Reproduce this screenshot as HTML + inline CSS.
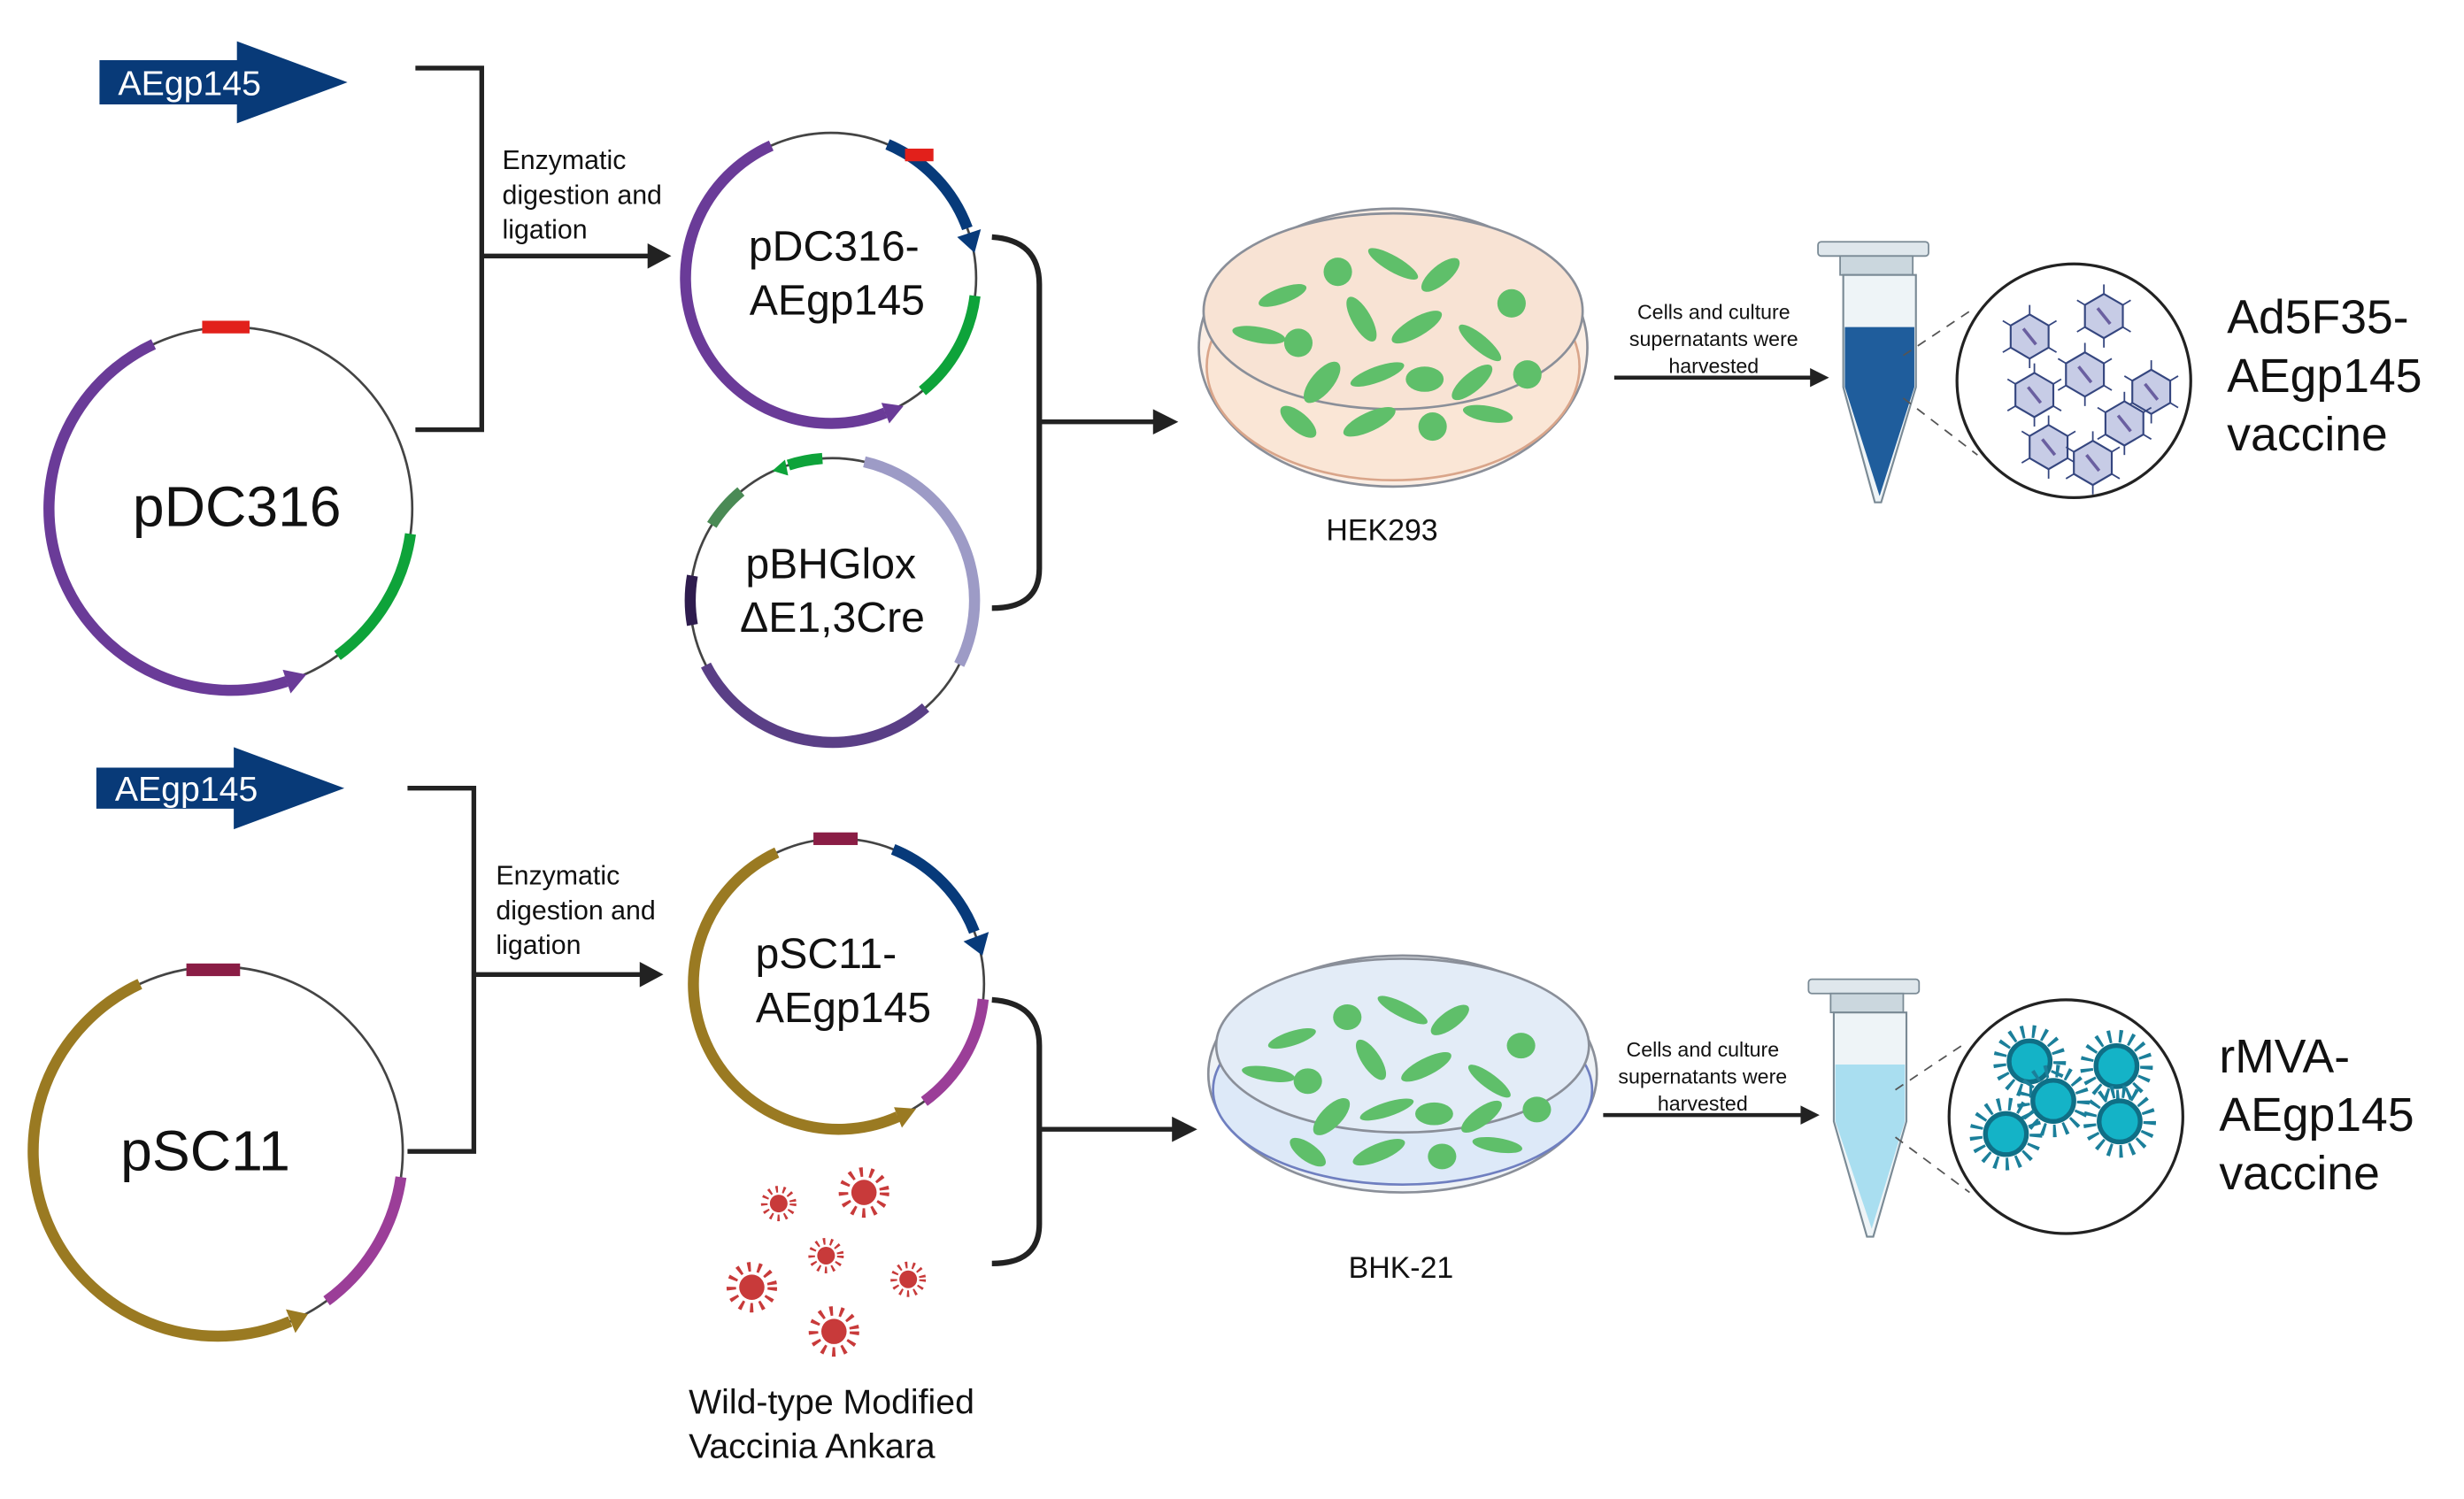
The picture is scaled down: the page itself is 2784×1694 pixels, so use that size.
<!DOCTYPE html>
<html><head><meta charset="utf-8"><style>
html,body{margin:0;padding:0;background:#fff}
svg{display:block}
text{font-family:"Liberation Sans",Arial,sans-serif;fill:#111}
</style></head><body>
<svg width="2784" height="1694" viewBox="0 0 1560 949" xmlns="http://www.w3.org/2000/svg">
<defs>
<g id="cells">
<ellipse cx="-70" cy="-25" rx="16" ry="5" transform="rotate(-20 -70 -25)"/>
<circle cx="-35" cy="-40" r="9"/>
<ellipse cx="0" cy="-45" rx="18" ry="5" transform="rotate(30 0 -45)"/>
<ellipse cx="30" cy="-38" rx="15" ry="6" transform="rotate(-40 30 -38)"/>
<circle cx="75" cy="-20" r="9"/>
<ellipse cx="-85" cy="0" rx="17" ry="5" transform="rotate(10 -85 0)"/>
<circle cx="-60" cy="5" r="9"/>
<ellipse cx="-20" cy="-10" rx="16" ry="6" transform="rotate(60 -20 -10)"/>
<ellipse cx="15" cy="-5" rx="18" ry="6" transform="rotate(-30 15 -5)"/>
<ellipse cx="55" cy="5" rx="17" ry="5" transform="rotate(40 55 5)"/>
<ellipse cx="-45" cy="30" rx="16" ry="7" transform="rotate(-50 -45 30)"/>
<ellipse cx="-10" cy="25" rx="18" ry="5" transform="rotate(-20 -10 25)"/>
<ellipse cx="20" cy="28" rx="12" ry="8"/>
<ellipse cx="50" cy="30" rx="16" ry="6" transform="rotate(-40 50 30)"/>
<circle cx="85" cy="25" r="9"/>
<ellipse cx="-60" cy="55" rx="14" ry="6" transform="rotate(40 -60 55)"/>
<ellipse cx="-15" cy="55" rx="18" ry="6" transform="rotate(-25 -15 55)"/>
<circle cx="25" cy="58" r="9"/>
<ellipse cx="60" cy="50" rx="16" ry="5" transform="rotate(10 60 50)"/>
</g>
<g id="hex"><polygon points="0,-14 12,-7 12,7 0,14 -12,7 -12,-7" fill="#c7cce6" stroke="#35467f" stroke-width="1.2"/><line x1="-4" y1="-5" x2="4" y2="5" stroke="#6a5fa0" stroke-width="2"/>
<g stroke="#35467f" stroke-width="1"><line x1="0" y1="-14" x2="0" y2="-20"/><line x1="12" y1="-7" x2="17" y2="-10"/><line x1="12" y1="7" x2="17" y2="10"/><line x1="0" y1="14" x2="0" y2="20"/><line x1="-12" y1="7" x2="-17" y2="10"/><line x1="-12" y1="-7" x2="-17" y2="-10"/></g></g>
<g id="mva"><circle r="19" fill="none" stroke="#1b7f9a" stroke-width="8" stroke-dasharray="2 5"/><circle r="13" fill="#14b3c7" stroke="#0f6f86" stroke-width="3"/></g>
<g id="redv"><circle r="13" fill="none" stroke="#c83a3a" stroke-width="6" stroke-dasharray="2 4.5"/><circle r="8" fill="#c83a3a"/></g>
</defs>

<polygon points="63,38 150,38 150,26 220,52 150,78 150,66 63,66" fill="#083a78"/>
<text x="120" y="60" font-size="22" text-anchor="middle" style="fill:#fff">AEgp145</text>
<path d="M263,43 H305 V272 H263" fill="none" stroke="#222" stroke-width="3"/>
<line x1="305" y1="162" x2="412" y2="162" stroke="#222" stroke-width="3"/>
<polygon points="410,154 425,162 410,170" fill="#222"/>
<text font-size="17"><tspan x="318" y="107">Enzymatic</tspan><tspan x="318" y="129">digestion and</tspan><tspan x="318" y="151">ligation</tspan></text>

<circle cx="146" cy="322" r="115" fill="none" stroke="#444" stroke-width="1.5"/>
<circle cx="146" cy="322" r="115" fill="none" stroke="#6a3b98" stroke-width="7" pathLength="360" stroke-dasharray="173 360" transform="rotate(72 146 322)"/>
<polygon points="184,439 179,424 194,427" fill="#6a3b98"/>
<circle cx="146" cy="322" r="115" fill="none" stroke="#0ea33a" stroke-width="7" pathLength="360" stroke-dasharray="46 360" transform="rotate(8 146 322)"/>
<rect x="128" y="203" width="30" height="8" fill="#e2201b"/>
<text x="150" y="333" font-size="36" text-anchor="middle">pDC316</text>

<circle cx="526" cy="176" r="92" fill="none" stroke="#444" stroke-width="1.5"/>
<circle cx="526" cy="176" r="92" fill="none" stroke="#6a3b98" stroke-width="7" pathLength="360" stroke-dasharray="178 360" transform="rotate(68 526 176)"/>
<polygon points="563,268 558,255 572,257" fill="#6a3b98"/>
<circle cx="526" cy="176" r="92" fill="none" stroke="#073a7a" stroke-width="7" pathLength="360" stroke-dasharray="47 360" transform="rotate(293 526 176)"/>
<polygon points="621,145 606,150 617,160" fill="#073a7a"/>
<rect x="573" y="94" width="18" height="8" fill="#e2201b"/>
<circle cx="526" cy="176" r="92" fill="none" stroke="#0ea33a" stroke-width="7" pathLength="360" stroke-dasharray="44 360" transform="rotate(7 526 176)"/>
<text font-size="27" text-anchor="middle"><tspan x="528" y="165">pDC316-</tspan><tspan x="530" y="199">AEgp145</tspan></text>

<circle cx="527" cy="380" r="90" fill="none" stroke="#444" stroke-width="1.5"/>
<circle cx="527" cy="380" r="90" fill="none" stroke="#9d9bc6" stroke-width="7" pathLength="360" stroke-dasharray="104 360" transform="rotate(283 527 380)"/>
<circle cx="527" cy="380" r="90" fill="none" stroke="#0ea33a" stroke-width="7" pathLength="360" stroke-dasharray="14 360" transform="rotate(252 527 380)"/>
<polygon points="489,298 497,291 499,301" fill="#0ea33a"/>
<circle cx="527" cy="380" r="90" fill="none" stroke="#4a8a55" stroke-width="7" pathLength="360" stroke-dasharray="18 360" transform="rotate(212 527 380)"/>
<circle cx="527" cy="380" r="90" fill="none" stroke="#2e1c4e" stroke-width="7" pathLength="360" stroke-dasharray="20 360" transform="rotate(170 527 380)"/>
<circle cx="527" cy="380" r="90" fill="none" stroke="#5a3f86" stroke-width="7" pathLength="360" stroke-dasharray="104 360" transform="rotate(49 527 380)"/>
<text font-size="27" text-anchor="middle"><tspan x="526" y="366">pBHGlox</tspan><tspan x="527" y="400">ΔE1,3Cre</tspan></text>

<path d="M628,150 Q658,152 658,180 V360 Q658,385 628,385" fill="none" stroke="#222" stroke-width="3.5"/>
<line x1="658" y1="267" x2="732" y2="267" stroke="#222" stroke-width="3"/>
<polygon points="730,259 746,267 730,275" fill="#222"/>

<ellipse cx="882" cy="220" rx="123" ry="88" fill="#fbeee4" stroke="#8a8f99" stroke-width="1.5"/>
<ellipse cx="882" cy="232" rx="118" ry="72" fill="#fae6d6" stroke="#d9a58a" stroke-width="1.5"/>
<ellipse cx="882" cy="197" rx="120" ry="62" fill="#f8e3d4" stroke="#8a8f99" stroke-width="1.5"/>
<g fill="#5fbf6a" transform="translate(882,212)"><use href="#cells"/></g>
<text x="875" y="342" font-size="19" text-anchor="middle">HEK293</text>

<text font-size="13" text-anchor="middle"><tspan x="1085" y="202">Cells and culture</tspan><tspan x="1085" y="219">supernatants were</tspan><tspan x="1085" y="236">harvested</tspan></text>
<line x1="1022" y1="239" x2="1148" y2="239" stroke="#222" stroke-width="2.5"/>
<polygon points="1146,233 1158,239 1146,245" fill="#222"/>

<rect x="1151" y="153" width="70" height="9" rx="2" fill="#dfe7ec" stroke="#7a8a95"/>
<rect x="1165" y="162" width="46" height="12" fill="#cbd7de" stroke="#7a8a95"/>
<path d="M1167,174 H1213 V245 L1191,318 L1187,318 L1167,245 Z" fill="#eef4f7" stroke="#7a8a95" stroke-width="1.2"/>
<path d="M1168,207 H1212 V245 L1190,314 L1168,245 Z" fill="#1f5d9c"/>
<g stroke="#555" stroke-width="1" stroke-dasharray="6 5"><line x1="1205" y1="225" x2="1250" y2="195"/><line x1="1205" y1="252" x2="1252" y2="288"/></g>
<circle cx="1313" cy="241" r="74" fill="#fff" stroke="#222" stroke-width="1.8"/>
<g><use href="#hex" x="1285" y="213"/><use href="#hex" x="1332" y="200"/><use href="#hex" x="1320" y="237"/><use href="#hex" x="1288" y="250"/><use href="#hex" x="1362" y="248"/><use href="#hex" x="1297" y="283"/><use href="#hex" x="1345" y="268"/><use href="#hex" x="1325" y="293"/></g>
<text font-size="30"><tspan x="1410" y="211">Ad5F35-</tspan><tspan x="1410" y="248">AEgp145</tspan><tspan x="1410" y="285">vaccine</tspan></text>

<polygon points="61,486 148,486 148,473 218,499 148,525 148,512 61,512" fill="#083a78"/>
<text x="118" y="507" font-size="22" text-anchor="middle" style="fill:#fff">AEgp145</text>
<path d="M258,499 H300 V729 H258" fill="none" stroke="#222" stroke-width="3"/>
<line x1="300" y1="617" x2="407" y2="617" stroke="#222" stroke-width="3"/>
<polygon points="405,609 420,617 405,625" fill="#222"/>
<text font-size="17"><tspan x="314" y="560">Enzymatic</tspan><tspan x="314" y="582">digestion and</tspan><tspan x="314" y="604">ligation</tspan></text>

<circle cx="138" cy="729" r="117" fill="none" stroke="#444" stroke-width="1.5"/>
<circle cx="138" cy="729" r="117" fill="none" stroke="#9a7a22" stroke-width="7" pathLength="360" stroke-dasharray="178 360" transform="rotate(67 138 729)"/>
<polygon points="187,844 181,829 195,832" fill="#9a7a22"/>
<circle cx="138" cy="729" r="117" fill="none" stroke="#9b3e98" stroke-width="7" pathLength="360" stroke-dasharray="46 360" transform="rotate(8 138 729)"/>
<rect x="118" y="610" width="34" height="8" fill="#8a1d45"/>
<text x="130" y="741" font-size="36" text-anchor="middle">pSC11</text>

<circle cx="531" cy="623" r="92" fill="none" stroke="#444" stroke-width="1.5"/>
<circle cx="531" cy="623" r="92" fill="none" stroke="#9a7a22" stroke-width="7" pathLength="360" stroke-dasharray="179 360" transform="rotate(66 531 623)"/>
<polygon points="571,714 566,701 580,702" fill="#9a7a22"/>
<circle cx="531" cy="623" r="92" fill="none" stroke="#073a7a" stroke-width="7" pathLength="360" stroke-dasharray="47 360" transform="rotate(292 531 623)"/>
<polygon points="626,590 610,596 622,605" fill="#073a7a"/>
<rect x="515" y="527" width="28" height="8" fill="#8a1d45"/>
<circle cx="531" cy="623" r="92" fill="none" stroke="#9b3e98" stroke-width="7" pathLength="360" stroke-dasharray="48 360" transform="rotate(6 531 623)"/>
<text font-size="27" text-anchor="middle"><tspan x="523" y="613">pSC11-</tspan><tspan x="534" y="647">AEgp145</tspan></text>

<use href="#redv" transform="translate(493,762) scale(0.7)"/>
<use href="#redv" transform="translate(547,755)"/>
<use href="#redv" transform="translate(523,795) scale(0.7)"/>
<use href="#redv" transform="translate(575,810) scale(0.7)"/>
<use href="#redv" transform="translate(476,815)"/>
<use href="#redv" transform="translate(528,843)"/>
<text font-size="22"><tspan x="436" y="895">Wild-type Modified</tspan><tspan x="436" y="923">Vaccinia Ankara</tspan></text>

<path d="M628,633 Q658,635 658,662 V775 Q658,800 628,800" fill="none" stroke="#222" stroke-width="3.5"/>
<line x1="658" y1="715" x2="744" y2="715" stroke="#222" stroke-width="3"/>
<polygon points="742,707 758,715 742,723" fill="#222"/>

<ellipse cx="888" cy="680" rx="123" ry="75" fill="#eef2f6" stroke="#8a8f99" stroke-width="1.5"/>
<ellipse cx="888" cy="690" rx="120" ry="60" fill="#dde9f8" stroke="#6f7fc0" stroke-width="1.5"/>
<ellipse cx="888" cy="662" rx="118" ry="55" fill="#e3ecf7" stroke="#8a8f99" stroke-width="1.5"/>
<g fill="#5fbf6a" transform="translate(888,680) scale(1,0.9)"><use href="#cells"/></g>
<text x="887" y="809" font-size="19" text-anchor="middle">BHK-21</text>

<text font-size="13" text-anchor="middle"><tspan x="1078" y="669">Cells and culture</tspan><tspan x="1078" y="686">supernatants were</tspan><tspan x="1078" y="703">harvested</tspan></text>
<line x1="1015" y1="706" x2="1142" y2="706" stroke="#222" stroke-width="2.5"/>
<polygon points="1140,700 1152,706 1140,712" fill="#222"/>

<rect x="1145" y="620" width="70" height="9" rx="2" fill="#dfe7ec" stroke="#7a8a95"/>
<rect x="1159" y="629" width="46" height="12" fill="#cbd7de" stroke="#7a8a95"/>
<path d="M1161,641 H1207 V710 L1186,783 L1182,783 L1161,710 Z" fill="#eef4f7" stroke="#7a8a95" stroke-width="1.2"/>
<path d="M1162,674 H1206 V710 L1185,778 L1162,710 Z" fill="#a9def0"/>
<g stroke="#555" stroke-width="1" stroke-dasharray="6 5"><line x1="1200" y1="690" x2="1245" y2="660"/><line x1="1200" y1="720" x2="1247" y2="755"/></g>
<circle cx="1308" cy="707" r="74" fill="#fff" stroke="#222" stroke-width="1.8"/>
<use href="#mva" x="1285" y="672"/><use href="#mva" x="1340" y="675"/><use href="#mva" x="1300" y="697"/><use href="#mva" x="1270" y="718"/><use href="#mva" x="1342" y="710"/>
<text font-size="30"><tspan x="1405" y="679">rMVA-</tspan><tspan x="1405" y="716">AEgp145</tspan><tspan x="1405" y="753">vaccine</tspan></text>
</svg>
</body></html>
